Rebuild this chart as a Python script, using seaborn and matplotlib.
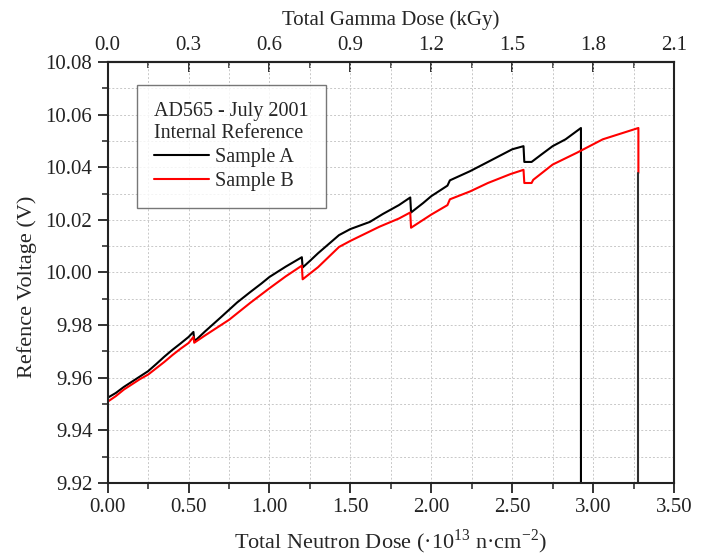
import numpy as np
import pandas as pd
import seaborn as sns
import matplotlib.pyplot as plt
from matplotlib.ticker import MultipleLocator, FixedLocator, FormatStrFormatter

# Sample A (black) - neutron dose (1e13 n/cm2) vs reference voltage (V)
dose_a = [0.00, 0.05, 0.10, 0.15, 0.20, 0.25, 0.30, 0.35, 0.40, 0.45, 0.50, 0.53,
          0.535, 0.55, 0.60, 0.70, 0.75, 0.80, 0.88, 0.95, 1.00, 1.10, 1.20,
          1.205, 1.25, 1.30, 1.43, 1.50, 1.62, 1.70, 1.80, 1.87,
          1.875, 1.95, 2.00, 2.10, 2.115, 2.24, 2.35, 2.50, 2.57,
          2.575, 2.62, 2.68, 2.75, 2.83, 2.925, 2.925]
volt_a = [9.9524, 9.9542, 9.9565, 9.9585, 9.9605, 9.9625, 9.9652, 9.9680, 9.9706, 9.9730, 9.9755, 9.9774,
          9.9742, 9.9746, 9.9775, 9.9830, 9.9858, 9.9886, 9.9925, 9.9958, 9.9983, 10.0022, 10.0058,
          10.0019, 10.0044, 10.0073, 10.0142, 10.0165, 10.0192, 10.0222, 10.0256, 10.0285,
          10.0228, 10.0264, 10.0290, 10.0330, 10.0350, 10.0385, 10.0420, 10.0468, 10.0480,
          10.0420, 10.0420, 10.0448, 10.0480, 10.0506, 10.0549, 9.9000]

# Sample B (red)
dose_b = [0.00, 0.05, 0.10, 0.15, 0.20, 0.25, 0.30, 0.35, 0.40, 0.45, 0.50, 0.53,
          0.535, 0.60, 0.75, 0.88, 1.00, 1.10, 1.20,
          1.205, 1.30, 1.43, 1.50, 1.68, 1.80, 1.87,
          1.875, 1.95, 2.00, 2.10, 2.115, 2.24, 2.35, 2.49, 2.57,
          2.575, 2.62, 2.63, 2.75, 2.90, 3.06, 3.28, 3.28]
volt_b = [9.9509, 9.9530, 9.9555, 9.9575, 9.9595, 9.9612, 9.9636, 9.9660, 9.9686, 9.9710, 9.9732, 9.9755,
          9.9733, 9.9760, 9.9820, 9.9884, 9.9940, 9.9985, 10.0026,
          9.9974, 10.0020, 10.0097, 10.0120, 10.0174, 10.0205, 10.0228,
          10.0170, 10.0200, 10.0220, 10.0256, 10.0278, 10.0308, 10.0340, 10.0374, 10.0390,
          10.0340, 10.0340, 10.0352, 10.0410, 10.0455, 10.0506, 10.0549, 10.0378]

# dark tail where sample B leaves the chart
tail_dose = [3.28, 3.28]
tail_volt = [10.0378, 9.9000]

gamma_ticks = [0.0, 0.3, 0.6, 0.9, 1.2, 1.5, 1.8, 2.1]
gamma_per_neutron = 0.6  # kGy per 1e13 n/cm2

df = pd.concat([
    pd.DataFrame({'dose': dose_a, 'volt': volt_a, 'sample': 'Sample A'}),
    pd.DataFrame({'dose': dose_b, 'volt': volt_b, 'sample': 'Sample B'}),
], ignore_index=True)

sns.set_style('ticks')
plt.rcParams['font.family'] = ['Liberation Serif', 'DejaVu Serif']
plt.rcParams['mathtext.fontset'] = 'custom'
plt.rcParams['mathtext.rm'] = 'Liberation Serif'

fig = plt.figure(figsize=(7.07, 5.58), dpi=100)
ax = fig.add_axes([0.1523, 0.1344, 0.801, 0.7546])

sns.lineplot(data=df, x='dose', y='volt', hue='sample', palette=['#000000', '#ff0000'],
             sort=False, estimator=None, linewidth=1.5, ax=ax)
ax.plot(tail_dose, tail_volt, color='#303030', lw=1.5)

ax.set_xlim(0, 3.5)
ax.set_ylim(9.92, 10.08)
ax.xaxis.set_major_locator(MultipleLocator(0.5))
ax.xaxis.set_minor_locator(MultipleLocator(0.25))
ax.yaxis.set_major_locator(MultipleLocator(0.02))
ax.yaxis.set_minor_locator(MultipleLocator(0.01))
ax.xaxis.set_major_formatter(FormatStrFormatter('%.2f'))
ax.yaxis.set_major_formatter(FormatStrFormatter('%.2f'))

ax.grid(True, which='both', color='#c8c8c8', linestyle=(0, (2, 2)), linewidth=0.7)
ax.set_axisbelow(True)

for s in ax.spines.values():
    s.set_linewidth(1.5)
    s.set_color('#222222')

ax.tick_params(axis='both', which='major', direction='out', length=7, width=1.3,
               labelsize=15, colors='#222222', pad=4)
ax.tick_params(axis='both', which='minor', direction='out', length=4, width=1.1, colors='#222222')
ax.tick_params(axis='x', which='both', top=False)
ax.tick_params(axis='y', which='both', right=False)

ax.set_xlabel('Total Neutron Dose (·10$^{13}$ n·cm$^{-2}$)', fontsize=16, labelpad=7)
ax.set_ylabel('Refence Voltage (V)', fontsize=16)
ax.yaxis.set_label_coords(-0.125, 0.465)

top = ax.secondary_xaxis('top', functions=(lambda x: x * gamma_per_neutron,
                                           lambda g: g / gamma_per_neutron))
top.xaxis.set_major_locator(FixedLocator(gamma_ticks))
top.xaxis.set_minor_locator(FixedLocator([g + 0.15 for g in gamma_ticks[:-1]]))
top.xaxis.set_major_formatter(FormatStrFormatter('%.1f'))
top.tick_params(which='major', direction='in', length=7, width=1.3, labelsize=15, pad=5,
                colors='#222222')
top.tick_params(which='minor', direction='in', length=4, width=1.1, colors='#222222')
top.spines['top'].set_linewidth(1.5)
top.set_xlabel('Total Gamma Dose (kGy)', fontsize=15, labelpad=8)

handles, labels = ax.get_legend_handles_labels()
leg = ax.legend(handles, labels, title='AD565 - July 2001\nInternal Reference',
                loc='upper left', bbox_to_anchor=(0.052, 0.945), borderaxespad=0,
                fontsize=14.5, title_fontsize=14.5, frameon=True, fancybox=False,
                handlelength=2.7, handletextpad=0.3, borderpad=0.85, labelspacing=0.25,
                alignment='left')
leg.get_frame().set_edgecolor('#555555')
leg.get_frame().set_linewidth(1.0)
for line in leg.get_lines():
    line.set_linewidth(1.5)

fig.savefig('out.png', dpi=100)
